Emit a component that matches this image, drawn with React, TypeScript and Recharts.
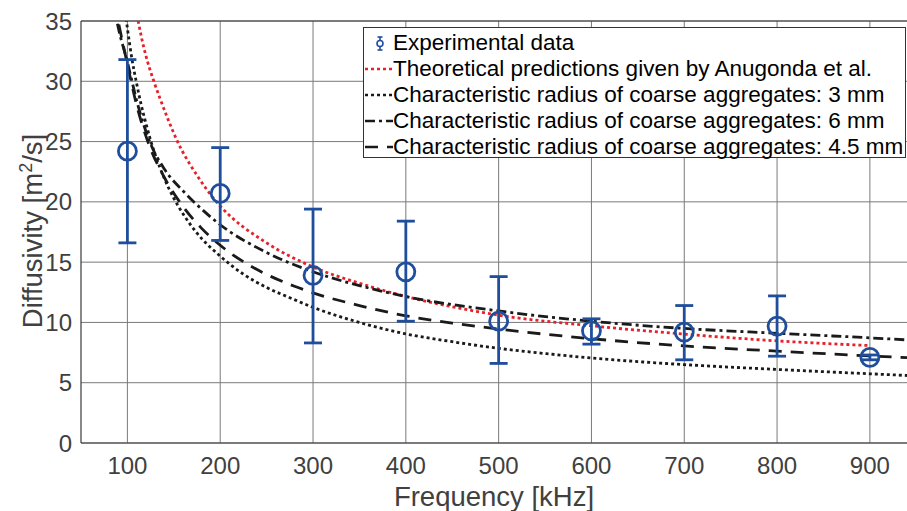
import { ComposedChart, Line, Scatter, ErrorBar, XAxis, YAxis, CartesianGrid, ReferenceLine, Label } from "recharts"

const freqTicks = [100, 200, 300, 400, 500, 600, 700, 800, 900]
const diffTicks = [0, 5, 10, 15, 20, 25, 30, 35]

// experimental data (kHz, m2/s) with error bar ends
const expFreq = [100, 200, 300, 400, 500, 600, 700, 800, 900]
const expMean = [24.2, 20.7, 13.9, 14.2, 10.1, 9.3, 9.2, 9.7, 7.1]
const expLow = [16.6, 16.8, 8.3, 10.1, 6.6, 8.2, 6.9, 7.2, 6.9]
const expHigh = [31.8, 24.5, 19.4, 18.4, 13.8, 10.3, 11.4, 12.2, 7.3]

// Anugonda et al.
const anuFreq = [109, 111.6, 115, 120, 128.5, 135, 144, 154, 175, 196, 200, 250, 300, 350, 400, 450, 500, 600, 700, 800, 900]
const anuVal = [36, 35, 33.7, 32.1, 30, 28.6, 26.8, 25, 22.2, 20, 19.65, 16.6, 14.6, 13.25, 12.15, 11.3, 10.6, 9.72, 9.03, 8.47, 8.08]

// 3 mm
const r3Freq = [97, 100, 105, 110, 115, 120, 125, 130, 140, 150, 160, 175, 200, 225, 250, 275, 300, 350, 400, 450, 500, 550, 600, 650, 700, 800, 900, 940]
const r3Val = [36.2, 34.4, 31.8, 29.8, 28, 26.5, 25.1, 23.9, 21.9, 20.3, 19, 17.4, 15.5, 14, 12.9, 12.05, 11.25, 10, 9.05, 8.4, 7.85, 7.42, 7.05, 6.75, 6.5, 6.1, 5.74, 5.6]

// 6 mm
const r6Freq = [85, 90, 100, 110, 124, 140, 160, 180, 200, 250, 300, 350, 400, 500, 600, 700, 800, 900, 940]
const r6Val = [36.5, 34.5, 31.6, 28.4, 25, 22.7, 20.9, 19.4, 18.1, 15.8, 14.2, 13.05, 12.15, 10.95, 10.1, 9.5, 9.1, 8.72, 8.55]

// 4.5 mm
const r45Freq = [86, 90, 100, 110, 122, 140, 160, 180, 200, 230, 255, 280, 300, 350, 400, 450, 500, 600, 700, 800, 900, 940]
const r45Val = [36.5, 35, 31.4, 28, 25, 22, 19.6, 17.8, 16.4, 14.8, 13.8, 13, 12.45, 11.4, 10.55, 9.95, 9.45, 8.65, 8.05, 7.62, 7.22, 7.08]

const zip = (f: number[], v: number[]) => f.map((x, i) => ({ f: x, v: v[i] }))

const expData = expFreq.map((f, i) => ({
  f,
  v: expMean[i],
  err: [expMean[i] - expLow[i], expHigh[i] - expMean[i]],
}))

const BLUE = "#1f4e9c"
const RED = "#e8202a"
const BLACK = "#1a1a1a"
const FONT = "'Liberation Sans', Arial, Helvetica, sans-serif"

const DOT = "3 3"
const DASHDOT = "10 4 3 4"
const DASH = "13 9"

const legendRows = [
  { label: "Experimental data", kind: "exp" },
  { label: "Theoretical predictions given by Anugonda et al.", color: RED, dash: DOT },
  { label: "Characteristic radius of coarse aggregates: 3 mm", color: BLACK, dash: DOT },
  { label: "Characteristic radius of coarse aggregates: 6 mm", color: BLACK, dash: DASHDOT },
  { label: "Characteristic radius of coarse aggregates: 4.5 mm", color: BLACK, dash: DASH },
]

function OpenCircle(props: any) {
  const { cx, cy } = props
  if (cx == null || cy == null) return null
  return <circle cx={cx} cy={cy} r={9} fill="none" stroke={BLUE} strokeWidth={2.8} />
}

function Legend() {
  return (
    <div
      style={{
        position: "absolute",
        left: 363,
        top: 27,
        width: 543,
        height: 131,
        boxSizing: "border-box",
        border: "1px solid #333",
        background: "#fff",
        paddingTop: 2,
        fontFamily: FONT,
        fontSize: 22.5,
        color: "#000",
      }}
    >
      {legendRows.map((r, i) => (
        <div key={i} style={{ height: 26, lineHeight: "26px", display: "flex", alignItems: "center", whiteSpace: "nowrap" }}>
          <svg width={29} height={26} style={{ flex: "none" }}>
            {r.kind === "exp" ? (
              <g stroke={BLUE} strokeWidth={1.6} fill="none">
                <line x1={16} y1={7} x2={16} y2={20} />
                <line x1={13.5} y1={7} x2={18.5} y2={7} />
                <line x1={13.5} y1={20} x2={18.5} y2={20} />
                <circle cx={16} cy={13.5} r={3} fill="#fff" />
              </g>
            ) : (
              <line x1={1} y1={13} x2={29} y2={13} stroke={r.color} strokeWidth={2.6} strokeDasharray={r.dash} />
            )}
          </svg>
          <span>{r.label}</span>
        </div>
      ))}
    </div>
  )
}

export default function App() {
  return (
    <div style={{ position: "absolute", left: 0, top: 0, width: 907, height: 511, overflow: "hidden", background: "#fff" }}>
      <ComposedChart width={907} height={511} margin={{ top: 21, right: 0, bottom: 28, left: 21 }}>
        <CartesianGrid stroke="#7a7a7a" strokeWidth={1} verticalValues={freqTicks} horizontalValues={diffTicks} />
        <XAxis
          type="number"
          dataKey="f"
          domain={[50, 940]}
          ticks={freqTicks}
          allowDataOverflow
          height={40}
          tickSize={0}
          tickMargin={14}
          axisLine={{ stroke: "#3a3a3a", strokeWidth: 1.2 }}
          tick={{ fill: "#404040", fontSize: 24, fontFamily: FONT }}
        >
          <Label
            content={() => (
              <text x={494} y={506} textAnchor="middle" fill="#404040" fontSize={27.5} fontFamily={FONT}>
                Frequency [kHz]
              </text>
            )}
          />
        </XAxis>
        <YAxis
          type="number"
          dataKey="v"
          domain={[0, 35]}
          ticks={diffTicks}
          allowDataOverflow
          width={60}
          tickSize={0}
          tickMargin={9}
          axisLine={{ stroke: "#3a3a3a", strokeWidth: 1.2 }}
          tick={{ fill: "#404040", fontSize: 24, fontFamily: FONT }}
        >
          <Label
            content={() => (
              <text x={42} y={231} transform="rotate(-90 42 231)" textAnchor="middle" fill="#404040" fontSize={27.5} fontFamily={FONT}>
                Diffusivity [m<tspan dy={-10} fontSize={18}>2</tspan><tspan dy={10}>/s]</tspan>
              </text>
            )}
          />
        </YAxis>
        <ReferenceLine y={35} stroke="#3a3a3a" strokeWidth={1.2} />
        <Line data={zip(anuFreq, anuVal)} dataKey="v" type="monotone" stroke={RED} strokeWidth={2.8} strokeDasharray={DOT} dot={false} isAnimationActive={false} />
        <Line data={zip(r3Freq, r3Val)} dataKey="v" type="monotone" stroke={BLACK} strokeWidth={2.8} strokeDasharray={DOT} dot={false} isAnimationActive={false} />
        <Line data={zip(r6Freq, r6Val)} dataKey="v" type="monotone" stroke={BLACK} strokeWidth={2.8} strokeDasharray={DASHDOT} dot={false} isAnimationActive={false} />
        <Line data={zip(r45Freq, r45Val)} dataKey="v" type="monotone" stroke={BLACK} strokeWidth={2.8} strokeDasharray={DASH} dot={false} isAnimationActive={false} />
        <Scatter data={expData} dataKey="v" shape={<OpenCircle />} isAnimationActive={false}>
          <ErrorBar dataKey="err" direction="y" width={9} stroke={BLUE} strokeWidth={2.8} isAnimationActive={false} />
        </Scatter>
      </ComposedChart>
      <Legend />
    </div>
  )
}
